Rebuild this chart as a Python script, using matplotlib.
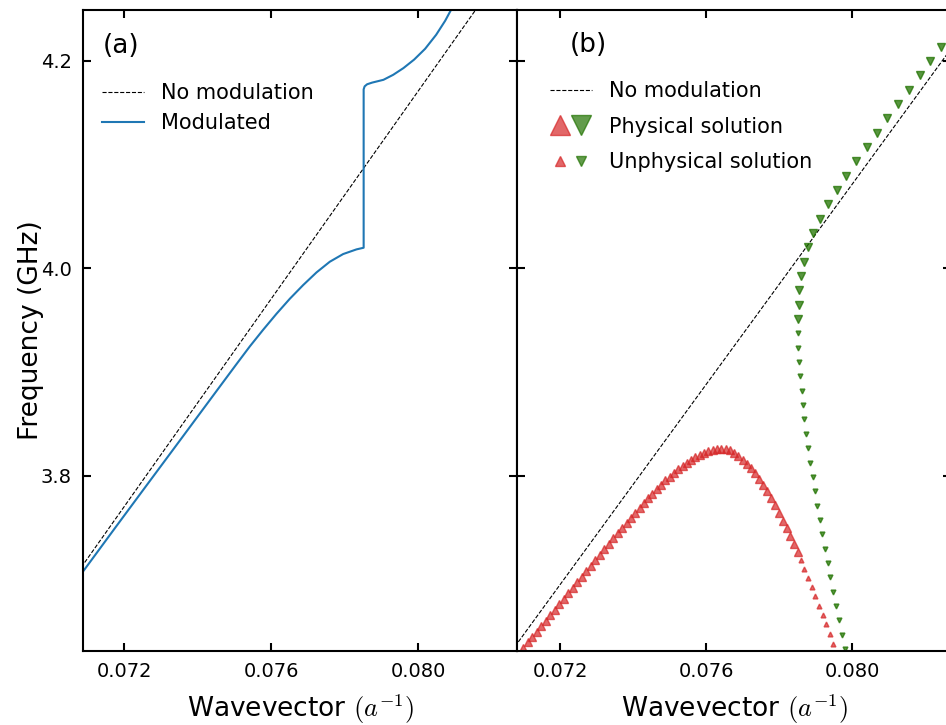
import matplotlib
matplotlib.use("Agg")
import matplotlib.pyplot as plt
from matplotlib.lines import Line2D
from matplotlib.legend_handler import HandlerTuple

plt.rcParams["mathtext.fontset"] = "cm"
plt.rcParams["font.family"] = "DejaVu Sans"

# (a) unmodulated dispersion and modulated branch
nomod_a_k = [0.0700, 0.0830]
nomod_a_f = [3.670, 4.321]

mod_k = [0.070884, 0.071791, 0.072698, 0.073605, 0.074512, 0.075057, 0.075420,
         0.075782, 0.076145, 0.076508, 0.076871, 0.077234, 0.077596, 0.077959,
         0.078322, 0.078517, 0.078517, 0.078544, 0.078612, 0.078748, 0.079056,
         0.079320, 0.079600, 0.079891, 0.080190, 0.080490, 0.080735, 0.080925]
mod_f = [3.7078, 3.7515, 3.7949, 3.8382, 3.8816, 3.9076, 3.9247,
         3.9407, 3.9561, 3.9706, 3.9838, 3.9960, 4.0063, 4.0137,
         4.0182, 4.0198, 4.1725, 4.1754, 4.1774, 4.1790, 4.1817,
         4.1865, 4.1930, 4.2012, 4.2116, 4.2251, 4.2386, 4.2511]

# (b) unmodulated dispersion and the two solution branches
nomod_b_k = [0.0700, 0.0830]
nomod_b_f = [3.5985, 4.2256]

red_phys_k = [0.070995, 0.071118, 0.071241, 0.071364, 0.071488, 0.071611, 0.071734,
              0.071858, 0.071981, 0.072104, 0.072227, 0.072351, 0.072474, 0.072597,
              0.072721, 0.072844, 0.072967, 0.073090, 0.073214, 0.073337, 0.073460,
              0.073584, 0.073707, 0.073825, 0.073942, 0.074060, 0.074178, 0.074296,
              0.074414, 0.074532, 0.074649, 0.074767, 0.074885, 0.075003, 0.075121,
              0.075238, 0.075356, 0.075474, 0.075592, 0.075710, 0.075827, 0.075945,
              0.076063, 0.076181, 0.076299, 0.076416, 0.076534, 0.076652, 0.076770,
              0.076888, 0.077003, 0.077118, 0.077233, 0.077345, 0.077457, 0.077570,
              0.077679, 0.077786, 0.077893, 0.078000, 0.078104, 0.078205, 0.078307,
              0.078408, 0.078510]
red_phys_f = [3.6339, 3.6392, 3.6445, 3.6498, 3.6551, 3.6604, 3.6656,
              3.6709, 3.6762, 3.6815, 3.6868, 3.6921, 3.6974, 3.7027,
              3.7080, 3.7133, 3.7186, 3.7239, 3.7292, 3.7345, 3.7397,
              3.7449, 3.7499, 3.7548, 3.7596, 3.7644, 3.7692, 3.7738,
              3.7783, 3.7827, 3.7871, 3.7913, 3.7954, 3.7992, 3.8029,
              3.8064, 3.8096, 3.8127, 3.8155, 3.8180, 3.8202, 3.8222,
              3.8238, 3.8251, 3.8258, 3.8260, 3.8255, 3.8245, 3.8222,
              3.8193, 3.8156, 3.8116, 3.8071, 3.8023, 3.7971, 3.7913,
              3.7851, 3.7783, 3.7713, 3.7640, 3.7568, 3.7494, 3.7418,
              3.7340, 3.7260]

red_unphys_k = [0.078594, 0.078693, 0.078795, 0.078896, 0.078995,
                0.079096, 0.079197, 0.079296, 0.079397, 0.079488]
red_unphys_f = [3.7184, 3.7101, 3.7014, 3.6923, 3.6837,
                3.6747, 3.6657, 3.6567, 3.6477, 3.6381]

green_phys_k = [0.082438, 0.082145, 0.081855, 0.081561, 0.081268, 0.080967, 0.080685,
                0.080403, 0.080110, 0.079836, 0.079581, 0.079351, 0.079123, 0.078940,
                0.078803, 0.078685, 0.078603, 0.078556, 0.078537, 0.078526]
green_phys_f = [4.2138, 4.2000, 4.1861, 4.1723, 4.1585, 4.1446, 4.1308,
                4.1170, 4.1031, 4.0893, 4.0755, 4.0616, 4.0478, 4.0340,
                4.0202, 4.0063, 3.9925, 3.9787, 3.9648, 3.9510]

green_unphys_k = [0.078521, 0.078529, 0.078556, 0.078584, 0.078622, 0.078658, 0.078693,
                  0.078748, 0.078803, 0.078857, 0.078923, 0.078978, 0.079049, 0.079115,
                  0.079186, 0.079260, 0.079334, 0.079405, 0.079488, 0.079570, 0.079652,
                  0.079734, 0.079816]
green_unphys_f = [3.9372, 3.9234, 3.9095, 3.8957, 3.8819, 3.8680, 3.8542,
                  3.8404, 3.8265, 3.8127, 3.7989, 3.7850, 3.7712, 3.7574,
                  3.7436, 3.7297, 3.7159, 3.7021, 3.6882, 3.6744, 3.6606,
                  3.6467, 3.6329]

xticks = [0.072, 0.076, 0.080]
yticks = [3.8, 4.0, 4.2]

red = "tab:red"
green = (0.13, 0.45, 0.0)

fig = plt.figure(figsize=(9.46, 7.25), dpi=100)
ax1 = fig.add_axes([83 / 946, 74 / 725, 434 / 946, 641 / 725])
ax2 = fig.add_axes([517 / 946, 74 / 725, 434 / 946, 641 / 725])

for ax in (ax1, ax2):
    ax.set_ylim(3.631, 4.249)
    ax.set_xticks(xticks)
    ax.set_yticks(yticks)
    ax.set_xticklabels([f"{t:.3f}" for t in xticks])
    ax.tick_params(direction="in", top=True, right=True, length=6, width=1.5,
                   labelsize=14, pad=8)
    for s in ax.spines.values():
        s.set_linewidth(1.5)
    ax.set_xlabel("Wavevector $(a^{-1})$", fontsize=19, labelpad=8)

ax1.set_xlim(0.07088, 0.08269)
ax2.set_xlim(0.07082, 0.08271)
ax1.set_yticklabels([f"{t:.1f}" for t in yticks])
ax2.set_yticklabels([])
ax1.set_ylabel("Frequency (GHz)", fontsize=19, labelpad=-2)

# panel (a)
ax1.plot(nomod_a_k, nomod_a_f, "k--", lw=0.8, label="No modulation")
ax1.plot(mod_k, mod_f, color="tab:blue", lw=1.5, label="Modulated")
ax1.text(0.046, 0.944, "(a)", transform=ax1.transAxes, fontsize=19, va="center")
ax1.legend(loc="upper left", bbox_to_anchor=(0.044, 0.886), frameon=False,
           fontsize=15, borderpad=0, borderaxespad=0, handlelength=2.0,
           handletextpad=0.85, labelspacing=0.5)

# panel (b)
ax2.plot(nomod_b_k, nomod_b_f, "k--", lw=0.8)
ax2.plot(red_phys_k, red_phys_f, ls="none", marker="^", ms=6, color=red, alpha=0.7)
ax2.plot(red_unphys_k, red_unphys_f, ls="none", marker="^", ms=3.5, color=red, alpha=0.7)
ax2.plot(green_phys_k, green_phys_f, ls="none", marker="v", ms=6, color=green, alpha=0.75)
ax2.plot(green_unphys_k, green_unphys_f, ls="none", marker="v", ms=3.5, color=green, alpha=0.75)
ax2.text(0.122, 0.945, "(b)", transform=ax2.transAxes, fontsize=19, va="center")

h_nomod = Line2D([], [], color="k", ls="--", lw=0.8)
h_phys = (Line2D([], [], ls="none", marker="^", ms=15, color=red, alpha=0.7),
          Line2D([], [], ls="none", marker="v", ms=15, color=green, alpha=0.7))
h_unphys = (Line2D([], [], ls="none", marker="^", ms=7, color=red, alpha=0.7),
            Line2D([], [], ls="none", marker="v", ms=7, color=green, alpha=0.7))
ax2.legend([h_nomod, h_phys, h_unphys],
           ["No modulation", "Physical solution", "Unphysical solution"],
           handler_map={tuple: HandlerTuple(ndivide=None, pad=0)},
           loc="upper left", bbox_to_anchor=(0.076, 0.889), frameon=False,
           fontsize=15, borderpad=0, borderaxespad=0, handlelength=2.0,
           handletextpad=0.82, labelspacing=0.75)

fig.savefig("out.png", dpi=100)
